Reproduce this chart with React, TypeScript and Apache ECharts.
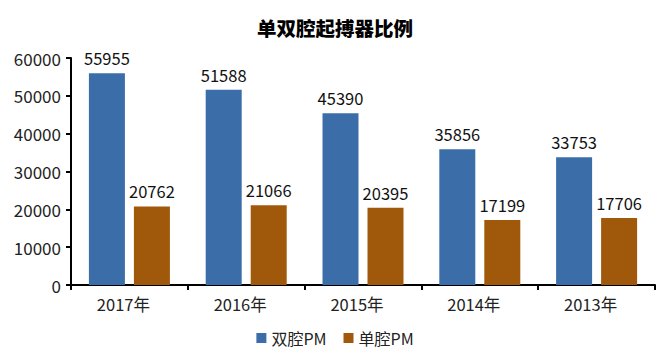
import React, { useEffect, useRef } from "react";
import * as echarts from "echarts";

const title = "单双腔起搏器比例";
const categories = ["2017年", "2016年", "2015年", "2014年", "2013年"];
const dualSeriesName = "双腔PM";
const singleSeriesName = "单腔PM";
const dualValues = [55955, 51588, 45390, 35856, 33753];
const singleValues = [20762, 21066, 20395, 17199, 17706];

const FONT = "'Noto Sans CJK SC', 'Noto Sans', sans-serif";

export default function App() {
  const ref = useRef<HTMLDivElement>(null);
  useEffect(() => {
    if (!ref.current) return;
    const chart = echarts.init(ref.current, undefined, { renderer: "svg" });
    const labelStyle = {
      show: true,
      position: "top" as const,
      distance: 7,
      color: "#111",
      fontSize: 16.5,
      fontFamily: FONT,
    };
    chart.setOption({
      animation: false,
      backgroundColor: "#fff",
      textStyle: { fontFamily: FONT },
      title: {
        text: title,
        left: "center",
        top: 13,
        textStyle: { fontSize: 19.5, fontWeight: 900, color: "#000", fontFamily: FONT },
      },
      legend: {
        bottom: 8,
        left: "center",
        itemWidth: 10,
        itemHeight: 10,
        itemGap: 17,
        icon: "rect",
        textStyle: { fontSize: 16, color: "#222", fontFamily: FONT },
        data: [dualSeriesName, singleSeriesName],
      },
      grid: { left: 71, right: 15, top: 58, bottom: 74, containLabel: false },
      xAxis: {
        type: "category",
        data: categories,
        axisLine: { lineStyle: { color: "#000", width: 2 } },
        axisTick: { show: true, length: 5, lineStyle: { color: "#000", width: 2 } },
        axisLabel: {
          fontSize: 16.5,
          color: "#222",
          margin: 11,
          padding: [0, 12, 0, 0],
          fontFamily: FONT,
        },
      },
      yAxis: {
        type: "value",
        min: 0,
        max: 60000,
        interval: 10000,
        axisLine: { show: true, lineStyle: { color: "#000", width: 2 } },
        axisTick: { show: true, length: 5, lineStyle: { color: "#000", width: 2 } },
        splitLine: { show: false },
        axisLabel: {
          fontSize: 17,
          color: "#222",
          margin: 10,
          fontFamily: FONT,
          formatter: (v: number) => String(v),
        },
      },
      series: [
        {
          name: dualSeriesName,
          type: "bar",
          data: dualValues,
          barWidth: 36,
          barGap: "25%",
          itemStyle: { color: "#3B6EA8" },
          label: labelStyle,
        },
        {
          name: singleSeriesName,
          type: "bar",
          data: singleValues,
          barWidth: 36,
          barGap: "25%",
          itemStyle: { color: "#A0590B" },
          label: labelStyle,
        },
      ],
    });
    return () => chart.dispose();
  }, []);
  return (
    <div
      ref={ref}
      style={{ position: "fixed", left: 0, top: 0, width: 670, height: 359 }}
    />
  );
}
